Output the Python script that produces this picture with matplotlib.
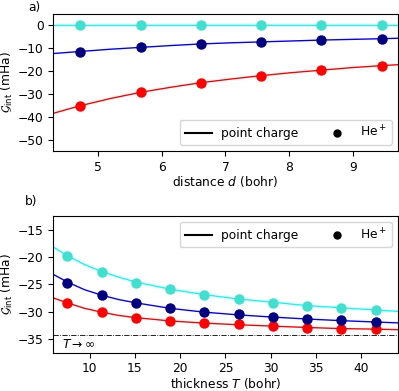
import numpy as np
import matplotlib
matplotlib.use('Agg')
import matplotlib.pyplot as plt

# a) distance scan (bohr)
d_pts = [4.72, 5.67, 6.61, 7.56, 8.50, 9.45]
a_red_pts = [-35.2, -29.3, -25.0, -22.2, -19.6, -17.6]
a_blue_pts = [-11.5, -9.6, -8.0, -7.3, -6.5, -5.8]
a_cyan_pts = [0.0, 0.0, 0.0, 0.0, 0.0, 0.0]

d_line = [4.3, 4.72, 5.2, 5.67, 6.14, 6.61, 7.08, 7.56, 8.03, 8.50, 8.97, 9.45, 9.7]
a_red_line = [-38.5, -35.2, -32.0, -29.3, -27.1, -25.1, -23.5, -22.0, -20.7, -19.6, -18.5, -17.6, -17.2]
a_blue_line = [-12.3, -11.4, -10.4, -9.6, -8.8, -8.1, -7.6, -7.2, -6.8, -6.4, -6.1, -5.8, -5.6]
a_cyan_line = [0.0] * len(d_line)

# b) thickness scan (bohr)
T_pts = [7.56, 11.34, 15.12, 18.9, 22.68, 26.46, 30.24, 34.02, 37.8, 41.58]
b_red_pts = [-28.4, -30.1, -31.1, -31.7, -32.0, -32.3, -32.6, -32.9, -33.1, -33.2]
b_blue_pts = [-24.7, -27.0, -28.4, -29.4, -30.1, -30.5, -31.0, -31.4, -31.6, -31.9]
b_cyan_pts = [-19.8, -22.8, -24.7, -25.95, -27.0, -27.7, -28.4, -28.9, -29.3, -29.7]

T_line = [6, 7.56, 9.45, 11.34, 13.23, 15.12, 18.9, 22.68, 26.46, 30.24, 34.02, 37.8, 41.58, 44]
b_red_line = [-27.5, -28.4, -29.4, -30.1, -30.7, -31.1, -31.7, -32.1, -32.4, -32.65, -32.9, -33.1, -33.2, -33.3]
b_blue_line = [-23.2, -24.6, -26.0, -27.0, -27.8, -28.4, -29.4, -30.1, -30.6, -31.0, -31.35, -31.65, -31.9, -32.05]
b_cyan_line = [-18.2, -19.8, -21.4, -22.7, -23.7, -24.6, -25.9, -26.9, -27.7, -28.3, -28.9, -29.3, -29.7, -29.95]
T_inf = -34.2

plt.rcParams['font.size'] = 8.8
fig = plt.figure(figsize=(3.99, 3.91), dpi=100)
ax1 = fig.add_axes([0.1336, 0.614, 0.863, 0.350])
ax2 = fig.add_axes([0.1336, 0.098, 0.863, 0.350])

ms = 6.5
ax1.plot(d_line, a_red_line, color='red', lw=1)
ax1.plot(d_line, a_blue_line, color='blue', lw=1)
ax1.plot(d_line, a_cyan_line, color='cyan', lw=1)
ax1.plot(d_pts, a_red_pts, 'o', color='red', ms=ms)
ax1.plot(d_pts, a_blue_pts, 'o', color='navy', ms=ms)
ax1.plot(d_pts, a_cyan_pts, 'o', color='turquoise', ms=ms)
ax1.plot([], [], '-', color='black', label='point charge')
ax1.plot([], [], 'o', color='black', ms=5, label='He$^+$')
ax1.set_xlim(4.3, 9.7)
ax1.set_ylim(-55, 5)
ax1.set_yticks([0, -10, -20, -30, -40, -50])
ax1.set_xlabel('distance $d$ (bohr)', labelpad=0.5)
ax1.set_ylabel(r'$\mathcal{G}_{\rm int}$ (mHa)', labelpad=2)
ax1.legend(loc='lower right', ncol=2, handlelength=2.2)

ax2.plot(T_line, b_red_line, color='red', lw=1)
ax2.plot(T_line, b_blue_line, color='blue', lw=1)
ax2.plot(T_line, b_cyan_line, color='cyan', lw=1)
ax2.plot(T_pts, b_red_pts, 'o', color='red', ms=ms)
ax2.plot(T_pts, b_blue_pts, 'o', color='navy', ms=ms)
ax2.plot(T_pts, b_cyan_pts, 'o', color='turquoise', ms=ms)
ax2.axhline(T_inf, color='black', ls='-.', lw=0.6)
ax2.text(7.0, T_inf - 0.6, r'$T\rightarrow\infty$', va='top', ha='left')
ax2.plot([], [], '-', color='black', label='point charge')
ax2.plot([], [], 'o', color='black', ms=5, label='He$^+$')
ax2.set_xlim(6, 44)
ax2.set_ylim(-37.5, -12.5)
ax2.set_yticks([-15, -20, -25, -30, -35])
ax2.set_xlabel('thickness $T$ (bohr)', labelpad=0.5)
ax2.set_ylabel(r'$\mathcal{G}_{\rm int}$ (mHa)', labelpad=2)
ax2.legend(loc='upper right', ncol=2, handlelength=2.2)

fig.text(0.07, 0.998, 'a)', va='top', ha='left')
fig.text(0.063, 0.500, 'b)', va='top', ha='left')

fig.savefig('out.png', dpi=100)
